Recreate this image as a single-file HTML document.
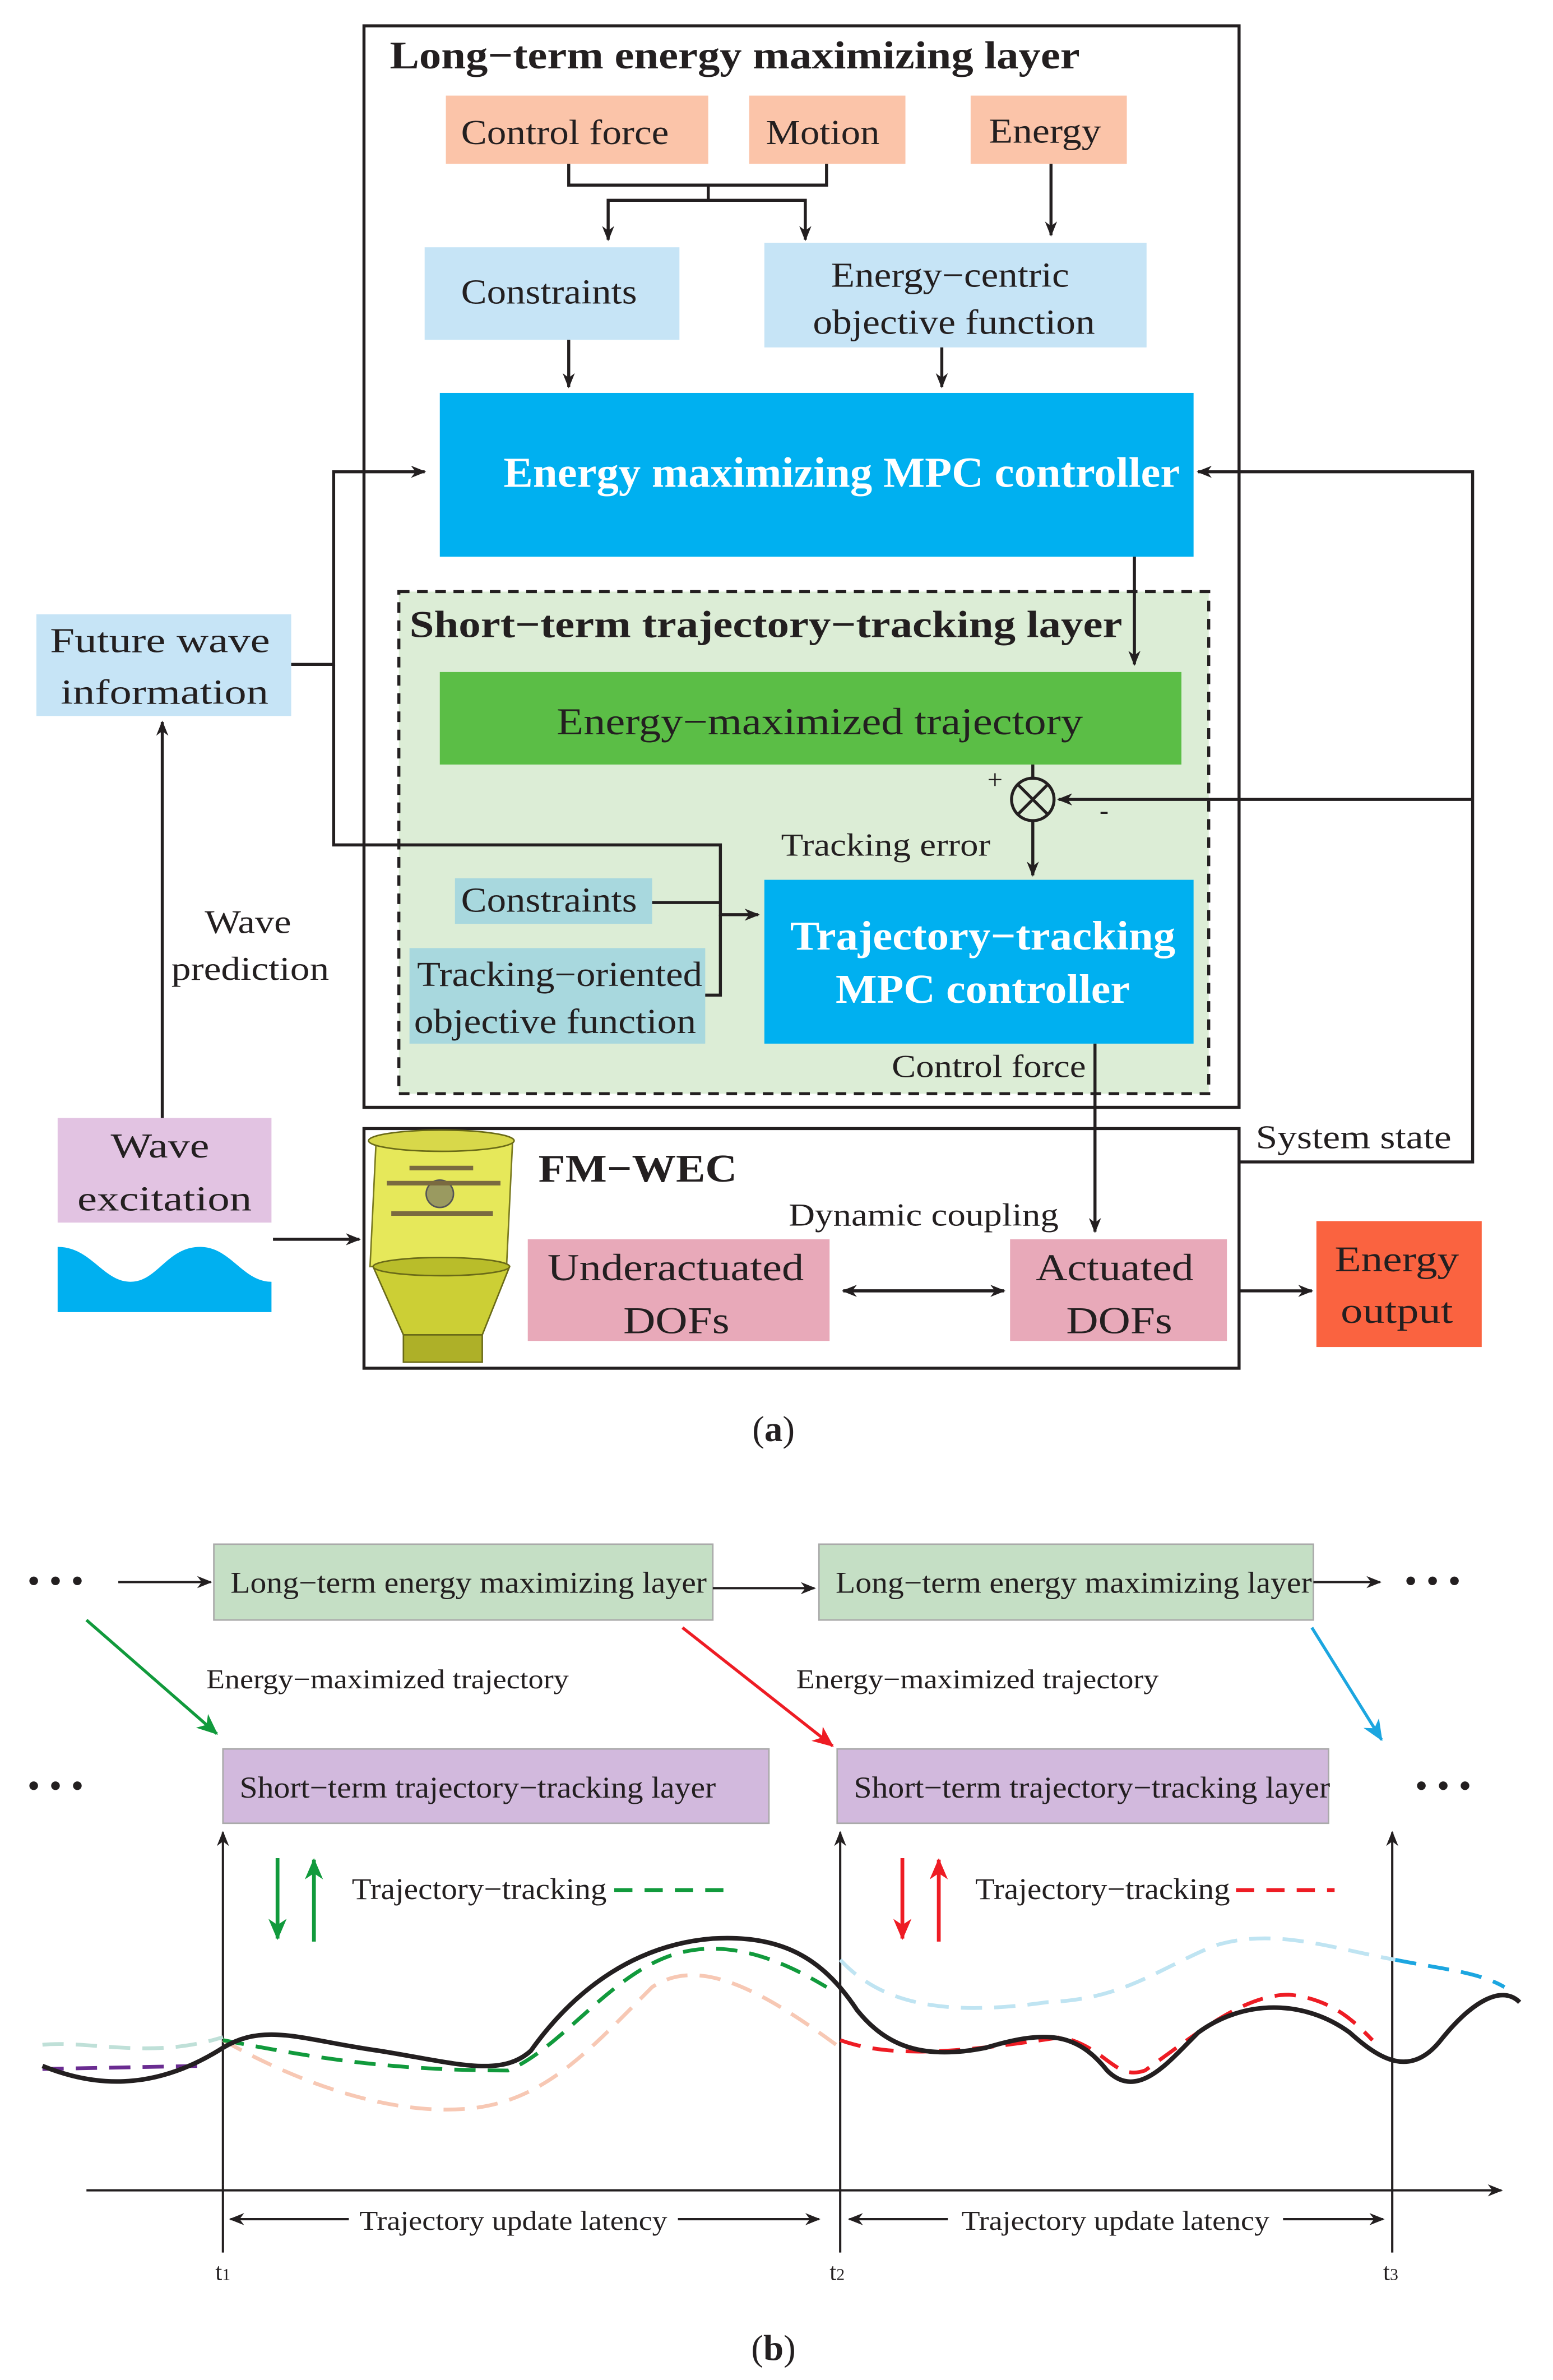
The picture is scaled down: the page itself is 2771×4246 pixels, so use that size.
<!DOCTYPE html>
<html><head><meta charset="utf-8"><style>html,body{margin:0;padding:0;background:#fff}svg{display:block}</style></head>
<body>
<svg xmlns="http://www.w3.org/2000/svg" width="2771" height="4246" viewBox="0 0 1024 1569" font-family="Liberation Serif, serif">
<defs>
<marker id="ar" markerWidth="10" markerHeight="10" refX="9" refY="5" orient="auto" markerUnits="userSpaceOnUse"><path d="M0,1 L10,5 L0,9 L3,5 z" fill="#231f20"/></marker>
<marker id="arg" markerWidth="14" markerHeight="14" refX="13" refY="7" orient="auto" markerUnits="userSpaceOnUse"><path d="M0,1 L14,7 L0,13 L4,7 z" fill="#119a3c"/></marker>
<marker id="arr" markerWidth="14" markerHeight="14" refX="13" refY="7" orient="auto" markerUnits="userSpaceOnUse"><path d="M0,1 L14,7 L0,13 L4,7 z" fill="#ee1c24"/></marker>
<marker id="arb" markerWidth="14" markerHeight="14" refX="13" refY="7" orient="auto" markerUnits="userSpaceOnUse"><path d="M0,1 L14,7 L0,13 L4,7 z" fill="#1ca6e0"/></marker>
</defs>
<g stroke="#231f20" stroke-width="2" fill="none">
<rect x="240" y="17" width="577" height="713"/>
<rect x="263" y="390" width="534" height="331" fill="#dcedd6" stroke-dasharray="7,5"/>
<rect x="240" y="744" width="577" height="158"/>
</g>
<text x="257" y="45" font-size="26" font-weight="bold" fill="#231f20" textLength="455" lengthAdjust="spacingAndGlyphs">Long−term energy maximizing layer</text>
<g font-size="23" fill="#231f20" lengthAdjust="spacingAndGlyphs">
<rect x="294" y="63" width="173" height="45" fill="#fbc4a9"/><text x="304" y="95" textLength="137" lengthAdjust="spacingAndGlyphs">Control force</text>
<rect x="494" y="63" width="103" height="45" fill="#fbc4a9"/><text x="505" y="95" textLength="75" lengthAdjust="spacingAndGlyphs">Motion</text>
<rect x="640" y="63" width="103" height="45" fill="#fbc4a9"/><text x="652" y="94" textLength="74" lengthAdjust="spacingAndGlyphs">Energy</text>
<rect x="280" y="163" width="168" height="61" fill="#c6e4f6"/><text x="304" y="200" textLength="116" lengthAdjust="spacingAndGlyphs">Constraints</text>
<rect x="504" y="160" width="252" height="69" fill="#c6e4f6"/><text x="548" y="189" textLength="157" lengthAdjust="spacingAndGlyphs">Energy−centric</text><text x="536" y="220" textLength="186" lengthAdjust="spacingAndGlyphs">objective function</text>
<rect x="24" y="405" width="168" height="67" fill="#c6e4f6"/><text x="33" y="430" textLength="145" lengthAdjust="spacingAndGlyphs">Future wave</text><text x="40" y="464" textLength="137" lengthAdjust="spacingAndGlyphs">information</text>
<rect x="38" y="737" width="141" height="69" fill="#e2c3e2"/><text x="73" y="763" textLength="65" lengthAdjust="spacingAndGlyphs">Wave</text><text x="51" y="798" textLength="115" lengthAdjust="spacingAndGlyphs">excitation</text>
<text x="135" y="615" font-size="22" textLength="57" lengthAdjust="spacingAndGlyphs">Wave</text><text x="113" y="646" font-size="22" textLength="104" lengthAdjust="spacingAndGlyphs">prediction</text>
<rect x="300" y="579" width="130" height="30" fill="#a8d8de"/><text x="304" y="601" textLength="116" lengthAdjust="spacingAndGlyphs">Constraints</text>
<rect x="270" y="625" width="195" height="63" fill="#a8d8de"/><text x="275" y="650" textLength="188" lengthAdjust="spacingAndGlyphs">Tracking−oriented</text><text x="273" y="681" textLength="186" lengthAdjust="spacingAndGlyphs">objective function</text>
<text x="515" y="564" font-size="21" textLength="138" lengthAdjust="spacingAndGlyphs">Tracking error</text>
<text x="588" y="710" font-size="21" textLength="128" lengthAdjust="spacingAndGlyphs">Control force</text>
<text x="828" y="757" font-size="22" textLength="129" lengthAdjust="spacingAndGlyphs">System state</text>
<text x="520" y="808" font-size="21" textLength="178" lengthAdjust="spacingAndGlyphs">Dynamic coupling</text>
<rect x="348" y="817" width="199" height="67" fill="#e8a9b9"/><text x="361" y="844" font-size="25" textLength="169" lengthAdjust="spacingAndGlyphs">Underactuated</text><text x="411" y="879" font-size="25" textLength="70" lengthAdjust="spacingAndGlyphs">DOFs</text>
<rect x="666" y="817" width="143" height="67" fill="#e8a9b9"/><text x="683" y="844" font-size="25" textLength="104" lengthAdjust="spacingAndGlyphs">Actuated</text><text x="703" y="879" font-size="25" textLength="70" lengthAdjust="spacingAndGlyphs">DOFs</text>
<rect x="868" y="805" width="109" height="83" fill="#fa6340"/><text x="880" y="838" font-size="24" textLength="82" lengthAdjust="spacingAndGlyphs">Energy</text><text x="884" y="872" font-size="24" textLength="74" lengthAdjust="spacingAndGlyphs">output</text>
<text x="510" y="950" font-size="24" text-anchor="middle">(<tspan font-weight="bold">a</tspan>)</text>
</g>
<rect x="290" y="259" width="497" height="108" fill="#00b0f0"/>
<text x="332" y="321" font-size="28" font-weight="bold" fill="#fff" textLength="446" lengthAdjust="spacingAndGlyphs">Energy maximizing MPC controller</text>
<text x="270" y="420" font-size="25" font-weight="bold" fill="#231f20" textLength="470" lengthAdjust="spacingAndGlyphs">Short−term trajectory−tracking layer</text>
<rect x="290" y="443" width="489" height="61" fill="#5bbe46"/>
<text x="367" y="484" font-size="25" fill="#231f20" textLength="347" lengthAdjust="spacingAndGlyphs">Energy−maximized trajectory</text>
<rect x="504" y="580" width="283" height="108" fill="#00b0f0"/>
<text x="521" y="626" font-size="27" font-weight="bold" fill="#fff" textLength="254" lengthAdjust="spacingAndGlyphs">Trajectory−tracking</text>
<text x="551" y="661" font-size="27" font-weight="bold" fill="#fff" textLength="194" lengthAdjust="spacingAndGlyphs">MPC controller</text>
<text x="355" y="779" font-size="26" font-weight="bold" fill="#231f20" textLength="131" lengthAdjust="spacingAndGlyphs">FM−WEC</text>
<!-- device -->
<g>
<path d="M248,752 L338,752 L334,835 L244,835 Z" fill="#e6e85a" stroke="#7a7a20" stroke-width="1"/>
<ellipse cx="291" cy="752" rx="48" ry="7" fill="#d8d84a" stroke="#6a6a18"/>
<path d="M246,835 L336,835 L318,880 L266,880 Z" fill="#cccf35" stroke="#6a6a18"/>
<ellipse cx="291" cy="835" rx="45" ry="6" fill="#b9bd2a" stroke="#6a6a18"/>
<rect x="266" y="880" width="52" height="18" fill="#aeb028" stroke="#6a6a18"/>
<circle cx="290" cy="787" r="9" fill="#9a9a60" stroke="#555"/>
<path d="M255,780 L330,780 M258,800 L325,800 M270,770 L312,770" stroke="#7a6a40" stroke-width="3"/>
</g>
<!-- wave -->
<path d="M38,822 C60,822 68,845 86,845 C104,845 110,822 132,822 C152,822 160,845 179,845 L179,865 L38,865 Z" fill="#00b0f0"/>
<!-- connectors (a) -->
<g stroke="#231f20" stroke-width="2" fill="none">
<path d="M375,108 V122 H545 V108"/>
<path d="M467,122 V132 H401 V158" marker-end="url(#ar)"/>
<path d="M467,132 H531 V158" marker-end="url(#ar)"/>
<path d="M693,108 V155" marker-end="url(#ar)"/>
<path d="M375,224 V255" marker-end="url(#ar)"/>
<path d="M621,229 V255" marker-end="url(#ar)"/>
<path d="M748,367 V438" marker-end="url(#ar)"/>
<circle cx="681" cy="527" r="14"/>
<path d="M671,517 L691,537 M691,517 L671,537"/>
<path d="M971,527 H698" marker-end="url(#ar)"/>
<path d="M681,504 V513"/>
<path d="M681,541 V577" marker-end="url(#ar)"/>
<path d="M192,438 H220 V311 H280" marker-end="url(#ar)"/>
<path d="M220,438 V557 H475 V603 H500" marker-end="url(#ar)"/>
<path d="M430,595 H475"/>
<path d="M465,656 H475 V603"/>
<path d="M722,688 V812" marker-end="url(#ar)"/>
<path d="M817,766 H971 V311 H790" marker-end="url(#ar)"/>
<path d="M107,737 V476" marker-end="url(#ar)"/>
<path d="M180,817 H237" marker-end="url(#ar)"/>
<path d="M556,851 H662" marker-end="url(#ar)"/>
<path d="M662,851 H556" marker-end="url(#ar)"/>
<path d="M817,851 H865" marker-end="url(#ar)"/>
</g>
<text x="651" y="520" font-size="18" fill="#231f20">+</text>
<text x="725" y="540" font-size="18" fill="#231f20">-</text>
<!-- part (b) -->
<g font-size="20" fill="#231f20">
<text x="18" y="1050" font-size="24">• • •</text>
<text x="926" y="1050" font-size="24">• • •</text>
<text x="18" y="1185" font-size="24">• • •</text>
<text x="933" y="1185" font-size="24">• • •</text>
<rect x="141" y="1018" width="329" height="50" fill="#c5dfc5" stroke="#aaa"/><text x="152" y="1050" textLength="314" lengthAdjust="spacingAndGlyphs">Long−term energy maximizing layer</text>
<rect x="540" y="1018" width="326" height="50" fill="#c5dfc5" stroke="#aaa"/><text x="551" y="1050" textLength="314" lengthAdjust="spacingAndGlyphs">Long−term energy maximizing layer</text>
<rect x="147" y="1153" width="360" height="49" fill="#d2b9dd" stroke="#aaa"/><text x="158" y="1185" textLength="314" lengthAdjust="spacingAndGlyphs">Short−term trajectory−tracking layer</text>
<rect x="552" y="1153" width="324" height="49" fill="#d2b9dd" stroke="#aaa"/><text x="563" y="1185" textLength="314" lengthAdjust="spacingAndGlyphs">Short−term trajectory−tracking layer</text>
<text x="136" y="1113" font-size="18" textLength="239" lengthAdjust="spacingAndGlyphs">Energy−maximized trajectory</text>
<text x="525" y="1113" font-size="18" textLength="239" lengthAdjust="spacingAndGlyphs">Energy−maximized trajectory</text>
<text x="232" y="1252" textLength="168" lengthAdjust="spacingAndGlyphs">Trajectory−tracking</text>
<text x="643" y="1252" textLength="168" lengthAdjust="spacingAndGlyphs">Trajectory−tracking</text>
<text x="237" y="1470" font-size="18" textLength="203" lengthAdjust="spacingAndGlyphs">Trajectory update latency</text>
<text x="634" y="1470" font-size="18" textLength="203" lengthAdjust="spacingAndGlyphs">Trajectory update latency</text>
<text x="142" y="1503" font-size="16">t<tspan font-size="11">1</tspan></text>
<text x="547" y="1503" font-size="16">t<tspan font-size="11">2</tspan></text>
<text x="912" y="1503" font-size="16">t<tspan font-size="11">3</tspan></text>
<text x="510" y="1556" font-size="24" text-anchor="middle">(<tspan font-weight="bold">b</tspan>)</text>
</g>
<g stroke="#231f20" stroke-width="1.5" fill="none">
<path d="M78,1043 H139" marker-end="url(#ar)"/>
<path d="M470,1047 H537" marker-end="url(#ar)"/>
<path d="M866,1043 H910" marker-end="url(#ar)"/>
<path d="M147,1440 V1208" marker-end="url(#ar)"/>
<path d="M554,1485 V1208" marker-end="url(#ar)"/>
<path d="M918,1485 V1208" marker-end="url(#ar)"/>
<path d="M147,1485 V1440"/>
<path d="M57,1444 H990" marker-end="url(#ar)"/>
<path d="M230,1463 H152" marker-end="url(#ar)"/><path d="M447,1463 H540" marker-end="url(#ar)"/>
<path d="M625,1463 H560" marker-end="url(#ar)"/><path d="M846,1463 H912" marker-end="url(#ar)"/>
</g>
<path d="M57,1068 L143,1143" stroke="#119a3c" stroke-width="2" marker-end="url(#arg)"/>
<path d="M450,1073 L549,1151" stroke="#ee1c24" stroke-width="2" marker-end="url(#arr)"/>
<path d="M865,1073 L911,1147" stroke="#1ca6e0" stroke-width="2" marker-end="url(#arb)"/>
<path d="M183,1225 V1278" stroke="#119a3c" stroke-width="2.5" marker-end="url(#arg)"/>
<path d="M207,1280 V1226" stroke="#119a3c" stroke-width="2.5" marker-end="url(#arg)"/>
<path d="M595,1225 V1278" stroke="#ee1c24" stroke-width="2.5" marker-end="url(#arr)"/>
<path d="M619,1280 V1226" stroke="#ee1c24" stroke-width="2.5" marker-end="url(#arr)"/>
<path d="M405,1246 H485" stroke="#119a3c" stroke-width="2.5" stroke-dasharray="12,8"/>
<path d="M815,1246 H880" stroke="#ee1c24" stroke-width="2.5" stroke-dasharray="12,8"/>
<g fill="none" stroke-width="2.5" stroke-dasharray="14,8">
<path d="M28,1348 C60,1345 100,1358 147,1343" stroke="#bfe0d8"/>
<path d="M28,1364 L130,1362" stroke="#6a2c91"/>
<path d="M147,1345 C200,1375 260,1395 310,1390 C360,1385 390,1350 430,1310 C460,1290 500,1310 554,1350" stroke="#f7c8b4"/>
<path d="M554,1292 C580,1320 620,1330 690,1320 C740,1318 760,1300 800,1283 C840,1270 880,1285 920,1292" stroke="#bfe4f2"/>
<path d="M920,1292 C950,1298 975,1300 992,1310" stroke="#1ca6e0"/>
<path d="M147,1345 C200,1355 250,1365 335,1365 C370,1350 400,1305 440,1290 C480,1275 520,1295 545,1310" stroke="#119a3c"/>
<path d="M554,1345 C590,1358 640,1352 700,1343 C730,1350 735,1372 755,1365 C790,1340 820,1315 850,1315 C880,1318 895,1335 905,1345" stroke="#ee1c24"/>
</g>
<path d="M28,1362 C60,1375 100,1380 147,1350 C175,1333 200,1345 250,1352 C300,1360 330,1370 350,1352 C380,1310 420,1282 470,1278 C520,1275 545,1295 565,1325 C585,1350 610,1358 650,1350 C690,1338 710,1340 730,1365 C750,1385 770,1360 790,1340 C820,1318 860,1318 890,1340 C910,1358 930,1370 950,1345 C970,1320 990,1308 1002,1320" fill="none" stroke="#231f20" stroke-width="3"/>
</svg>
</body></html>
